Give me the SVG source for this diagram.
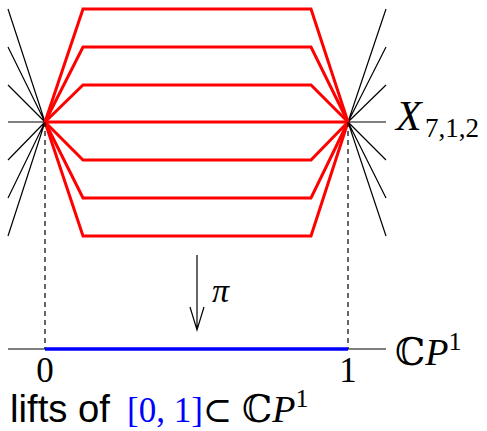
<svg xmlns="http://www.w3.org/2000/svg" width="487" height="431" viewBox="0 0 487 431">
<style>
.thin{stroke:#000;stroke-width:1.2;fill:none}
.red{stroke:#f00;stroke-width:3;fill:none;stroke-linejoin:miter}
.dash{stroke:#000;stroke-width:1.2;stroke-dasharray:5 4;fill:none}
.math{font-family:"Liberation Serif","DejaVu Serif",serif;fill:#000}
.sans{font-family:"Liberation Sans","DejaVu Sans",sans-serif;fill:#000}
</style>
<g id="fan-left">
<path class="thin" d="M45 122L8 9M45 122L8 47M45 122L8 85M45 122L8 122M45 122L8 160M45 122L8 198M45 122L8 236"/>
</g>
<g id="fan-right">
<path class="thin" d="M348 122L386 9M348 122L386 47M348 122L386 85M348 122L386 122M348 122L386 160M348 122L386 198M348 122L386 236"/>
</g>
<g id="lifts">
<path class="red" d="M45 122L83 9H311L348 122"/>
<path class="red" d="M45 122L83 47H311L348 122"/>
<path class="red" d="M45 122L83 85H311L348 122"/>
<path class="red" d="M45 122H348"/>
<path class="red" d="M45 122L83 160H311L348 122"/>
<path class="red" d="M45 122L83 198H311L348 122"/>
<path class="red" d="M45 122L83 236H311L348 122"/>
</g>
<g id="connectors">
<path class="dash" d="M45 122V349M348 122V349"/>
<path class="thin" d="M197 255V330M190 307L197 330L204 307"/>
</g>
<g id="base">
<path class="thin" d="M8 349H386"/>
<path d="M45 349H348" stroke="#00f" stroke-width="3.5"/>
</g>
<g id="labels">
<text class="math" x="396" y="130" font-size="42" font-style="italic">X</text>
<text class="math" x="425" y="137" font-size="27">7,1,2</text>
<text class="math" x="212" y="302" font-size="34" font-style="italic">π</text>
<text class="math" x="45" y="382" font-size="35" text-anchor="middle">0</text>
<text class="math" x="348" y="382" font-size="35" text-anchor="middle">1</text>
<text class="math" x="395" y="365" font-size="38">ℂ<tspan font-style="italic">P</tspan><tspan font-size="26" dy="-15">1</tspan></text>
<text class="sans" x="10" y="422" font-size="38" textLength="100" lengthAdjust="spacingAndGlyphs">lifts of</text>
<text class="math" x="127" y="422" font-size="35"><tspan style="fill:#00f">[0, 1]</tspan>⊂</text>
<text class="math" x="242" y="422" font-size="38">ℂ<tspan font-style="italic">P</tspan><tspan font-size="26" dy="-15">1</tspan></text>
</g>
</svg>
